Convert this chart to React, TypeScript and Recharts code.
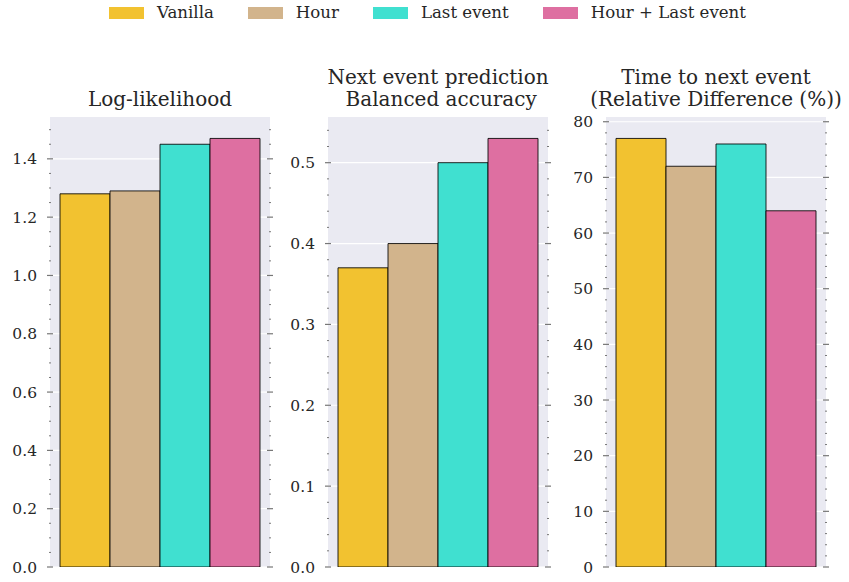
import React from 'react';
import { BarChart, Bar, XAxis, YAxis, CartesianGrid } from 'recharts';

const SERIES = ['Vanilla', 'Hour', 'Last event', 'Hour + Last event'];
const COLORS = ['#F2C230', '#D2B48C', '#40E0D0', '#DE6FA1'];

const LOG_LIKELIHOOD = [1.28, 1.29, 1.45, 1.47];
const BALANCED_ACCURACY = [0.37, 0.40, 0.50, 0.53];
const TIME_REL_DIFF = [77, 72, 76, 64];

const LL_TICKS = [0, 0.2, 0.4, 0.6, 0.8, 1.0, 1.2, 1.4];
const ACC_TICKS = [0, 0.1, 0.2, 0.3, 0.4, 0.5];
const TIME_TICKS = [0, 10, 20, 30, 40, 50, 60, 70, 80];

const LL_TITLE = ['Log-likelihood'];
const ACC_TITLE = ['Next event prediction', ' Balanced accuracy'];
const TIME_TITLE = ['Time to next event', '(Relative Difference (%))'];

const FONT = '"DejaVu Serif", serif';
const TEXT = '#262626';
const TICK = '#777';

// minor ticks between major ones
function withMinors(step: number, max: number) {
  const out: number[] = [];
  const n = Math.floor(max / step + 1e-6);
  for (let i = 0; i <= n; i++) out.push(Math.round(i * step * 1e6) / 1e6);
  return out;
}

const isMajor = (majors: number[], v: number) => majors.some(m => Math.abs(m - v) < 1e-9);

const LeftTick = (props: any) => {
  const { x, y, payload, majors, decimals } = props;
  const major = isMajor(majors, payload.value);
  return (
    <g>
      <line x1={x - (major ? 3 : 1)} x2={x + (major ? 3 : 1)} y1={y} y2={y} stroke={TICK} strokeWidth={major ? 1.2 : 1} />
      {major && (
        <text x={x - 13} y={y} dy="0.36em" textAnchor="end" fontSize={15.5} fontFamily={FONT} fill={TEXT}>
          {payload.value.toFixed(decimals)}
        </text>
      )}
    </g>
  );
};

const RightTick = (props: any) => {
  const { x, y, payload, majors } = props;
  const major = isMajor(majors, payload.value);
  return (
    <line x1={x - (major ? 3 : 1)} x2={x + (major ? 3 : 1)} y1={y} y2={y} stroke={TICK} strokeWidth={major ? 1.2 : 1} />
  );
};

type PanelProps = {
  left: number;
  title: string[];
  values: number[];
  majors: number[];
  minorStep: number;
  decimals: number;
};

const Panel = ({ left, title, values, majors, minorStep, decimals }: PanelProps) => {
  const max = Math.max(...values) * 1.05;
  const row: Record<string, number | string> = { name: 'm' };
  values.forEach((v, i) => { row['s' + i] = v; });
  const allTicks = withMinors(minorStep, max);

  return (
    <>
      <div style={{
        position: 'absolute', left: left + 50 + 110 - 160, width: 320, top: 0, height: 110,
        display: 'flex', flexDirection: 'column', justifyContent: 'flex-end',
        fontFamily: FONT, fontSize: 20, color: TEXT, textAlign: 'center',
      }}>
        {title.map(t => (
          <div key={t} style={{ lineHeight: '22px', whiteSpace: 'pre' }}>{t}</div>
        ))}
      </div>
      <div style={{ position: 'absolute', left, top: 112 }}>
        <BarChart width={278} height={465} data={[row]} margin={{ top: 5, right: 0, bottom: 10, left: 0 }}
          barCategoryGap={10} barGap={0}>
          <CartesianGrid fill="#EAEAF2" stroke="#fff" strokeWidth={1.2} vertical={false} horizontalValues={majors} />
          <XAxis dataKey="name" type="category" hide />
          <YAxis type="number" domain={[0, max]} ticks={allTicks} interval={0} width={50}
            axisLine={false} tickLine={false} tickSize={0} tickMargin={0} allowDataOverflow
            tick={<LeftTick majors={majors} decimals={decimals} />} />
          <YAxis yAxisId="r" orientation="right" type="number" domain={[0, max]} ticks={allTicks} interval={0} width={8}
            axisLine={false} tickLine={false} tickSize={0} tickMargin={0} allowDataOverflow
            tick={<RightTick majors={majors} />} />
          {SERIES.map((s, i) => (
            <Bar key={s} dataKey={'s' + i} name={s} fill={COLORS[i]} stroke="#000" strokeOpacity={0.85}
              strokeWidth={1} isAnimationActive={false} />
          ))}
        </BarChart>
      </div>
    </>
  );
};

const Legend = () => (
  <div style={{
    position: 'absolute', left: 109, top: 2, display: 'flex', alignItems: 'center',
    fontFamily: FONT, fontSize: 16.6, color: TEXT, whiteSpace: 'nowrap',
  }}>
    {SERIES.map((s, i) => (
      <div key={s} style={{ display: 'flex', alignItems: 'center', marginRight: i < SERIES.length - 1 ? 34 : 0 }}>
        <div style={{ width: 35, height: 12, background: COLORS[i], marginRight: 13 }} />
        <span style={{ lineHeight: '22px' }}>{s}</span>
      </div>
    ))}
  </div>
);

export default function App() {
  return (
    <div style={{ position: 'absolute', left: 0, top: 0, width: 849, height: 582, background: '#fff', overflow: 'hidden' }}>
      <Legend />
      <Panel left={0} title={LL_TITLE} values={LOG_LIKELIHOOD} majors={LL_TICKS} minorStep={0.05} decimals={1} />
      <Panel left={278} title={ACC_TITLE} values={BALANCED_ACCURACY} majors={ACC_TICKS} minorStep={0.02} decimals={1} />
      <Panel left={556} title={TIME_TITLE} values={TIME_REL_DIFF} majors={TIME_TICKS} minorStep={2} decimals={0} />
    </div>
  );
}
